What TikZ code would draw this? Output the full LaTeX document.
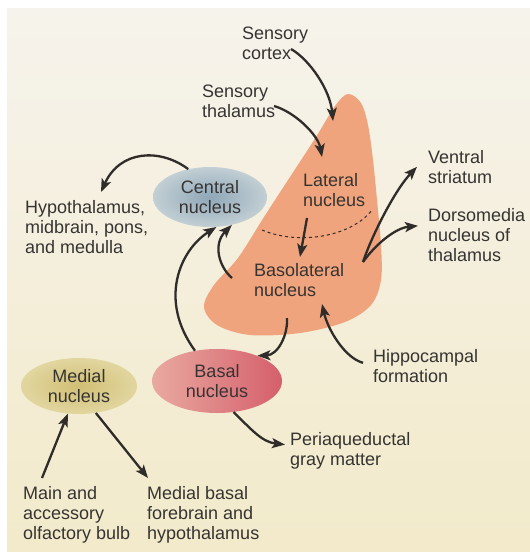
\documentclass[tikz,border=0pt]{standalone}
\usepackage{fontspec}
\setmainfont{Liberation Sans}
\usepackage{xcolor}
\usetikzlibrary{arrows.meta,positioning,shapes.geometric}

\definecolor{ink}{HTML}{2F2C2A}
\definecolor{txt}{HTML}{363432}
\definecolor{paperT}{HTML}{F6F3EC}
\definecolor{paperB}{HTML}{F2EACA}
\definecolor{blob}{HTML}{EFA47D}
\definecolor{centIn}{HTML}{8FA7B8}
\definecolor{centOut}{HTML}{C2CFD4}
\definecolor{medIn}{HTML}{D1BF74}
\definecolor{medOut}{HTML}{E2D6A0}
\definecolor{basL}{HTML}{E9A9A0}
\definecolor{basR}{HTML}{D55F6C}

\tikzset{
 lbl/.style={anchor=north west,inner sep=0,align=left,text=txt,
  font=\fontsize{18}{20}\selectfont},
 nucl/.style={ellipse,inner sep=0,align=center,text=txt,
  font=\fontsize{18}{20}\selectfont},
 conn/.style={->,draw=ink,line width=2.3pt},
}

\begin{document}
\begin{tikzpicture}[x=1pt,y=-1pt,>={Stealth[length=13pt,width=10pt,inset=3pt]}]
 \useasboundingbox (0,0) rectangle (530,552);
 \shade[top color=paperT,bottom color=paperB] (7,8) rectangle (530,552);
 % amygdala body
 \fill[blob] plot[smooth cycle,tension=0.55] coordinates {
  (348,94) (361,103) (368,125) (373,160) (377,200) (381,245) (381,280)
  (371,305) (345,322) (300,333) (250,335) (217,325) (204,307) (214,285)
  (238,258) (264,217) (290,177) (316,137) (335,106)};
 \draw[ink,dashed,line width=1pt] (262,230) .. controls (300,246) and (352,236) .. (372,210);

 % labels
 \node[lbl] (cortex) at (242,27) {Sensory\\cortex};
 \node[lbl] (thal) at (202,85) {Sensory\\thalamus};
 \node[lbl] (hypo) at (25,200) {Hypothalamus,\\midbrain, pons,\\and medulla};
 \node[lbl] (lateral) at (303,173) {Lateral\\nucleus};
 \node[lbl] (baso) at (254,263) {Basolateral\\nucleus};
 \node[lbl] (ventral) at (428,150) {Ventral\\striatum};
 \node[lbl] (dorso) at (428,208) {Dorsomedia\\nucleus of\\thalamus};
 \node[lbl] (hippo) at (373,349) {Hippocampal\\formation};
 \node[lbl] (periaq) at (290,432) {Periaqueductal\\gray matter};
 \node[lbl] (olfact) at (23,486) {Main and\\accessory\\olfactory bulb};
 \node[lbl] (mbasal) at (147,486) {Medial basal\\forebrain and\\hypothalamus};

 % nuclei
 \node[nucl,shade,inner color=centIn,outer color=centOut,minimum width=114pt,minimum height=60pt] (central) at (210,197) {Central\\nucleus};
 \node[nucl,shade,left color=basL,right color=basR,minimum width=130pt,minimum height=64pt] (basal) at (217,381) {Basal\\nucleus};
 \node[nucl,shade,inner color=medIn,outer color=medOut,minimum width=116pt,minimum height=56pt] (medial) at (79,386) {Medial\\nucleus};

 % free ends of the connectors
 \coordinate (ctxOut) at (291,49);
 \coordinate (ctxIn) at (333,121);
 \coordinate (thalOut) at (274,106);
 \coordinate (thalIn) at (322,157);
 \coordinate (latOut) at (307,218);
 \coordinate (basoIn) at (300,257);
 \coordinate (basoUp) at (232,278);
 \coordinate (basoR) at (363,262);
 \coordinate (basoDn) at (287,318);
 \coordinate (hipIn) at (322,304);

 \draw[conn] (ctxOut) .. controls (310,60) and (330,90) .. (ctxIn);
 \draw[conn] (thalOut) .. controls (295,112) and (318,135) .. (thalIn);
 \draw[conn] (central.128) .. controls (160,148) and (120,150) .. ([xshift=76pt,yshift=8pt]hypo.north west);
 \draw[conn] (latOut) -- (basoIn);
 \draw[conn] (basoUp) .. controls (220,268) and (212,245) .. (central.-52);
 \draw[conn] (basal.126) .. controls (158,300) and (180,250) .. (central.-78);
 \draw[conn] (basoR) .. controls (372,235) and (395,190) .. ([xshift=-11pt]ventral.west);
 \draw[conn] (basoR) .. controls (375,245) and (395,228) .. ([xshift=-10pt,yshift=9pt]dorso.west);
 \draw[conn] ([xshift=-10pt,yshift=3pt]hippo.west) .. controls (345,358) and (328,330) .. (hipIn);
 \draw[conn] (basoDn) .. controls (288,335) and (278,355) .. (basal.32);
 \draw[conn] (basal.-62) .. controls (252,430) and (262,442) .. ([xshift=-5pt,yshift=6pt]periaq.west);
 \draw[conn] ([xshift=19pt,yshift=8pt]olfact.north west) -- (medial.-112);
 \draw[conn] (medial.-58) -- ([xshift=1pt,yshift=8pt]mbasal.north west);
\end{tikzpicture}
\end{document}
